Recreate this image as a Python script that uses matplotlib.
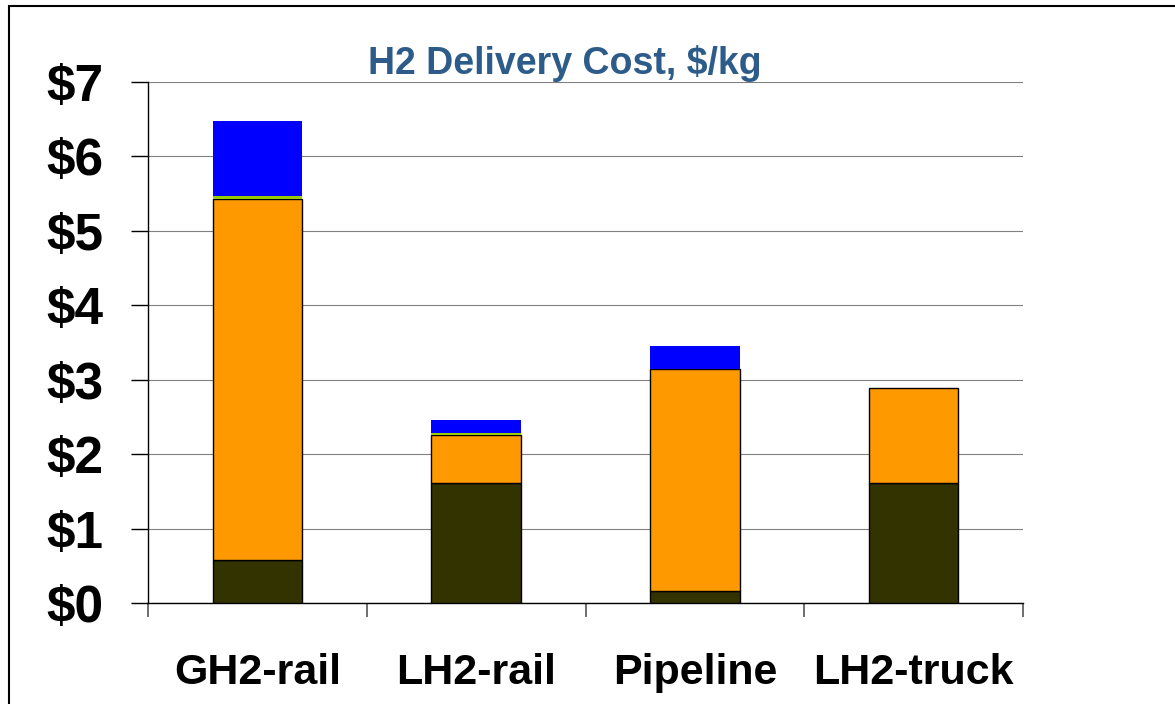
import matplotlib
matplotlib.use("Agg")
import matplotlib.pyplot as plt
import numpy as np
from matplotlib.patches import Rectangle

# Delivery cost components, $/kg
routes = ["GH2-rail", "LH2-rail", "Pipeline", "LH2-truck"]
base = [0.58, 1.61, 0.16, 1.61]        # dark olive segment
middle = [4.85, 0.65, 2.99, 1.28]      # orange segment
thin = [0.04, 0.03, 0.0, 0.0]          # green sliver
top = [1.00, 0.17, 0.30, 0.0]          # blue cap
y_ticks = [0, 1, 2, 3, 4, 5, 6, 7]
y_labels = ["$0", "$1", "$2", "$3", "$4", "$5", "$6", "$7"]

plt.rcParams["font.family"] = ["Liberation Sans", "DejaVu Sans"]

fig = plt.figure(figsize=(11.75, 7.04), dpi=100)
ax = fig.add_axes([148 / 1175, 1 - 603 / 704, 875 / 1175, 521 / 704])

x = np.arange(len(routes))
w = 0.41
b = np.zeros(len(routes))
ax.bar(x, base, w, bottom=b, color="#333300", edgecolor="black", linewidth=1, zorder=3)
b += base
ax.bar(x, middle, w, bottom=b, color="#FF9900", edgecolor="black", linewidth=1, zorder=3)
b += middle
ax.bar(x, thin, w, bottom=b, color="#99CC00", linewidth=0, zorder=3)
b += thin
ax.bar(x, top, w, bottom=b, color="#0000FF", linewidth=0, zorder=3)

ax.set_xlim(-0.5, 3.5)
ax.set_ylim(0, 7)

ax.set_yticks(y_ticks)
ax.set_yticklabels(y_labels, fontsize=37, fontweight="bold")
ax.tick_params(axis="y", direction="out", length=12, width=1, pad=20)

# category boundary ticks, labels at bar centres
ax.set_xticks(np.arange(-0.5, 4.0, 1.0))
ax.set_xticklabels([])
ax.tick_params(axis="x", which="major", direction="out", length=10, width=1.2, color="#555555")
ax.set_xticks(x, minor=True)
ax.set_xticklabels(routes, minor=True, fontsize=31, fontweight="bold")
ax.tick_params(axis="x", which="minor", length=0, pad=36)

ax.yaxis.grid(True, color="#808080", linewidth=0.8, zorder=0)
ax.set_axisbelow(True)
for s in ["top", "right"]:
    ax.spines[s].set_visible(False)
ax.spines["left"].set_linewidth(1)
ax.spines["bottom"].set_linewidth(1)

fig.text(565 / 1175, 1 - 63 / 704, "H2 Delivery Cost, $/kg", fontsize=27,
         fontweight="bold", color="#2E5C8A", ha="center", va="center")

# outer frame of the slide
fig.patches.append(Rectangle((9 / 1175, -0.05), 1.2, 1 - 6 / 704 + 0.05,
                             transform=fig.transFigure, fill=False,
                             edgecolor="black", linewidth=1.5))

fig.savefig("out.png", dpi=100)
